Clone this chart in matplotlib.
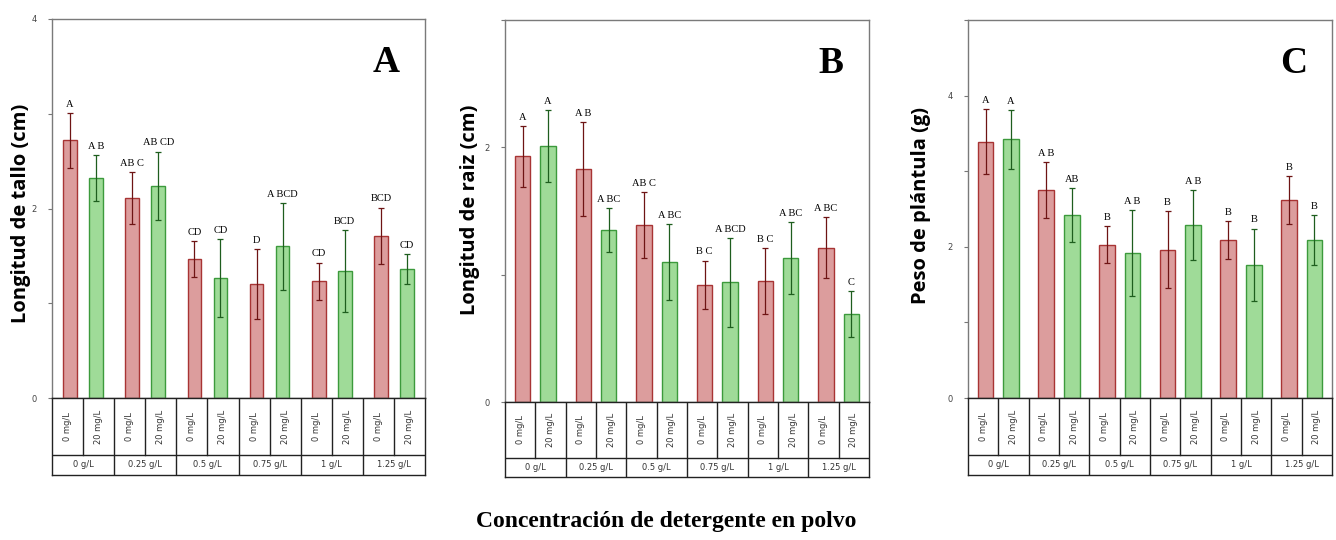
import numpy as np
import matplotlib
matplotlib.use("Agg")
import matplotlib.pyplot as plt
from matplotlib.ticker import MultipleLocator

W, H = 1336, 540

groups = ["0 g/L", "0.25 g/L", "0.5 g/L", "0.75 g/L", "1 g/L", "1.25 g/L"]
doses = ["0 mg/L", "20 mg/L"]

# A: stem length (cm)
tallo_0 = [2.72, 2.11, 1.47, 1.20, 1.23, 1.71]
tallo_0_err = [0.29, 0.27, 0.19, 0.37, 0.20, 0.30]
tallo_20 = [2.32, 2.24, 1.27, 1.60, 1.34, 1.36]
tallo_20_err = [0.24, 0.36, 0.41, 0.46, 0.43, 0.16]
tallo_let_0 = ["A", "AB C", "CD", "D", "CD", "BCD"]
tallo_let_20 = ["A B", "AB CD", "CD", "A BCD", "BCD", "CD"]

# B: root length (cm)
raiz_0 = [1.93, 1.83, 1.39, 0.92, 0.95, 1.21]
raiz_0_err = [0.24, 0.37, 0.26, 0.19, 0.26, 0.24]
raiz_20 = [2.01, 1.35, 1.10, 0.94, 1.13, 0.69]
raiz_20_err = [0.28, 0.17, 0.30, 0.35, 0.28, 0.18]
raiz_let_0 = ["A", "A B", "AB C", "B C", "B C", "A BC"]
raiz_let_20 = ["A", "A BC", "A BC", "A BCD", "A BC", "C"]

# C: seedling weight (g)
peso_0 = [3.39, 2.75, 2.03, 1.96, 2.09, 2.62]
peso_0_err = [0.43, 0.37, 0.24, 0.51, 0.25, 0.32]
peso_20 = [3.42, 2.42, 1.92, 2.29, 1.76, 2.09]
peso_20_err = [0.39, 0.36, 0.57, 0.46, 0.48, 0.33]
peso_let_0 = ["A", "A B", "B", "B", "B", "B"]
peso_let_20 = ["A", "AB", "A B", "A B", "B", "B"]

red_fill, red_edge, red_err = "#dc9d9d", "#a83434", "#6e1414"
green_fill, green_edge, green_err = "#9fdb98", "#3c9a3c", "#1e5e1e"

fig = plt.figure(figsize=(W / 100, H / 100), dpi=100)


def px_axes(left, top, right, bottom):
    return fig.add_axes([left / W, 1 - bottom / H, (right - left) / W, (bottom - top) / H])


def panel(box, table_bottom, v0, e0, l0, v20, e20, l20, ymax, letter, width, ylabel, ylab_x, ylab_y):
    left, top, right, bottom = box
    ax = px_axes(left, top, right, bottom)
    x = np.arange(len(groups))
    off = 0.21
    ax.bar(x - off, v0, width, color=red_fill, edgecolor=red_edge, linewidth=1.0, zorder=2)
    ax.bar(x + off, v20, width, color=green_fill, edgecolor=green_edge, linewidth=1.0, zorder=2)
    ax.errorbar(x - off, v0, yerr=e0, fmt="none", ecolor=red_err, elinewidth=0.9,
                capsize=2, capthick=0.9, zorder=3)
    ax.errorbar(x + off, v20, yerr=e20, fmt="none", ecolor=green_err, elinewidth=0.9,
                capsize=2, capthick=0.9, zorder=3)
    for xi, v, e, t in zip(x - off, v0, e0, l0):
        ax.annotate(t, (xi, v + e), xytext=(0, 3), textcoords="offset points",
                    ha="center", va="bottom", fontsize=7.5, family="Liberation Serif")
    for xi, v, e, t in zip(x + off, v20, e20, l20):
        ax.annotate(t, (xi, v + e), xytext=(0, 3), textcoords="offset points",
                    ha="center", va="bottom", fontsize=7.5, family="Liberation Serif")
    ax.set_xlim(-0.5, len(groups) - 0.5)
    ax.set_ylim(0, ymax)
    ax.set_xticks([])
    ax.yaxis.set_major_locator(MultipleLocator(2))
    ax.yaxis.set_minor_locator(MultipleLocator(1))
    ax.tick_params(axis="y", which="both", direction="out", length=3, width=0.8,
                   color="#777777", labelsize=6, labelcolor="#444444", pad=8)
    for s in ax.spines.values():
        s.set_color("#7a7a7a")
        s.set_linewidth(1.0)
    ax.text(0.895, 0.885, letter, transform=ax.transAxes, ha="center", va="center",
            fontsize=27, fontweight="bold", family="Liberation Serif")
    fig.text(ylab_x / W, 1 - ylab_y / H, ylabel, rotation=90, ha="center", va="center",
             fontsize=14.5, fontweight="bold", family="Open Sans")

    # category table under the axis
    tb = px_axes(left, bottom, right, table_bottom)
    tb.set_xlim(-0.5, len(groups) - 0.5)
    tb.set_ylim(0, 1)
    tb.set_xticks([])
    tb.set_yticks([])
    for s in tb.spines.values():
        s.set_color("#222222")
        s.set_linewidth(1.0)
    split = 0.26
    tb.axhline(split, color="#222222", lw=1.0)
    for i in range(len(groups)):
        if i > 0:
            tb.plot([i - 0.5, i - 0.5], [0, 1], color="#222222", lw=1.0)
        tb.plot([i, i], [split, 1], color="#222222", lw=1.0)
        tb.text(i - 0.25, (split + 1) / 2, doses[0], rotation=90, ha="center", va="center",
                fontsize=6, color="#333333")
        tb.text(i + 0.25, (split + 1) / 2, doses[1], rotation=90, ha="center", va="center",
                fontsize=6, color="#333333")
        tb.text(i, split / 2, groups[i], ha="center", va="center", fontsize=6, color="#333333")
    return ax


panel((52, 19, 425, 398), 475, tallo_0, tallo_0_err, tallo_let_0,
      tallo_20, tallo_20_err, tallo_let_20, 4, "A", 0.22,
      "Longitud de tallo (cm)", 21, 213)
panel((505, 20, 869, 402), 477, raiz_0, raiz_0_err, raiz_let_0,
      raiz_20, raiz_20_err, raiz_let_20, 3, "B", 0.25,
      "Longitud de raiz (cm)", 470, 210)
panel((968, 20, 1332, 398), 475, peso_0, peso_0_err, peso_let_0,
      peso_20, peso_20_err, peso_let_20, 5, "C", 0.26,
      "Peso de plántula (g)", 921, 206)

fig.text(666 / W, 1 - 522 / H, "Concentración de detergente en polvo", ha="center", va="center",
         fontsize=17, fontweight="bold", family="Liberation Serif")

fig.savefig("out.png", dpi=100)
